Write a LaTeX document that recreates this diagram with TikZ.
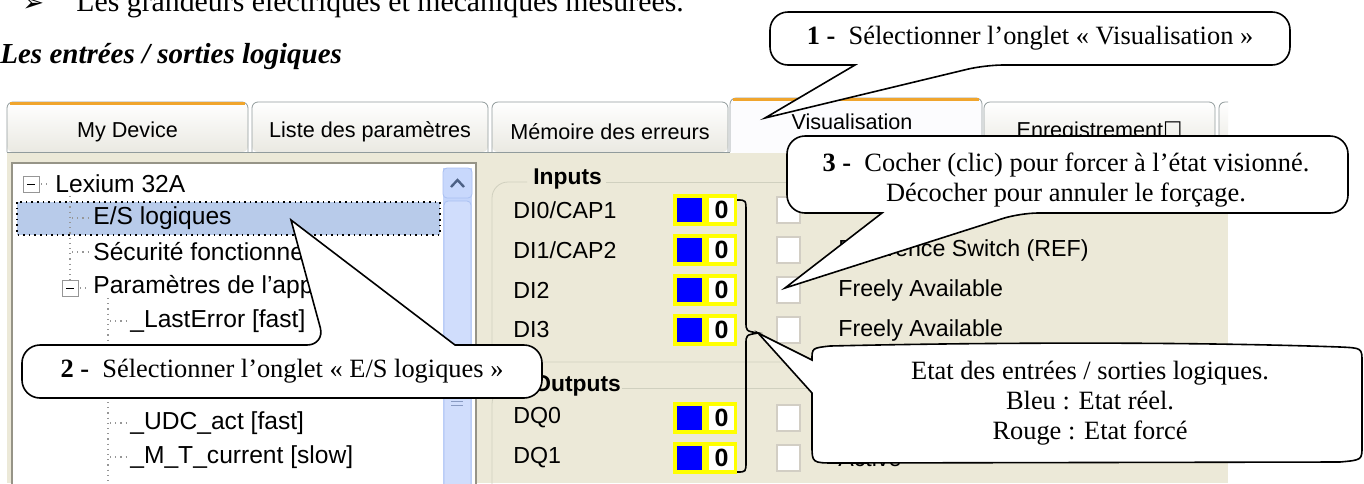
\documentclass[tikz,border=0pt]{standalone}
\usepackage{fontspec}
\setmainfont{Liberation Serif}
\setsansfont{Liberation Sans}
\newfontfamily\symfont{DejaVu Sans}
\usetikzlibrary{positioning}
\definecolor{winBeige}{RGB}{236,233,216}
\definecolor{tabTop}{RGB}{255,255,255}
\definecolor{tabBot}{RGB}{234,233,226}
\definecolor{tabEdge}{RGB}{145,155,156}
\definecolor{tabHot}{RGB}{240,165,45}
\definecolor{tabSel}{RGB}{252,252,254}
\definecolor{treeEdge}{RGB}{150,148,135}
\definecolor{selBlue}{RGB}{184,203,234}
\definecolor{treeDot}{RGB}{150,150,150}
\definecolor{scrollBlue}{RGB}{196,213,251}
\definecolor{scrollEdge}{RGB}{170,192,242}
\definecolor{scrollBtn}{RGB}{200,216,252}
\definecolor{chevronBlue}{RGB}{77,97,133}
\definecolor{grpEdge}{RGB}{208,208,191}
\definecolor{boxEdge}{RGB}{210,206,196}
\definecolor{ledYellow}{RGB}{255,255,0}
\definecolor{ledBlue}{RGB}{0,0,255}

\begin{document}
\begin{tikzpicture}[x=0.5pt,y=-0.5pt,
    uitext/.style={font=\sffamily\fontsize{11.6}{13}\selectfont,anchor=west,inner sep=0pt},
    treetext/.style={font=\sffamily\fontsize{12.3}{14}\selectfont,anchor=west,inner sep=0pt},
    tablabel/.style={font=\sffamily\fontsize{10.8}{13}\selectfont,inner sep=0pt},
    callout/.style={draw=black,fill=white,line width=0.8pt},
    calltext/.style={font=\fontsize{13.2}{15}\selectfont,align=center,inner sep=0pt},
    treeline/.style={draw=treeDot,dotted,line width=0.6pt}]
    \useasboundingbox (0,0) rectangle (1364,483);
    \fill[white] (0,0) rectangle (1364,483);
    \begin{scope}
      \clip (0,0) rectangle (1364,483);
      \node[anchor=base west,inner sep=0pt,font=\symfont\fontsize{13}{15}\selectfont] (pagebullet) at (22,11) {➢};
      \node[anchor=base west,inner sep=0pt,font=\fontsize{14.9}{17}\selectfont] (pageline) at (76,11) {Les grandeurs électriques et mécaniques mesurées.};
    \end{scope}
    \node[anchor=base west,inner sep=0pt,font=\bfseries\itshape\fontsize{14.5}{17}\selectfont] (sectitle) at (0,63) {Les entrées / sorties logiques};

    \begin{scope}
      \clip (5,95) rectangle (1228,483);
      \foreach \xa/\xb/\lbl/\nm in {7/248/My Device/tabDevice,252/488/Liste des paramètres/tabParams,
                                    492/728/Mémoire des erreurs/tabErrors,984/1215/Enregistrement{\symfont ☐}/tabRecord,
                                    1219/1300/{}/tabMore}
        {\shade[top color=tabTop,bottom color=tabBot,rounded corners=3pt] (\xa,152) -- (\xa,102) -- (\xb,102) -- (\xb,152) -- cycle;
         \draw[tabEdge,rounded corners=3pt] (\xa,152) -- (\xa,102) -- (\xb,102) -- (\xb,152);
         \node[tablabel] (\nm) at ({(\xa+\xb)/2},132) {\lbl};}
      \draw[tabHot,line width=1.5pt] (10,103) -- (245,103);
      \fill[tabSel,rounded corners=3pt] (730,153) -- (730,98) -- (982,98) -- (982,153) -- cycle;
      \draw[tabEdge,rounded corners=3pt] (730,152) -- (730,98) -- (982,98) -- (982,152);
      \draw[tabHot,line width=1.5pt] (733,99.5) -- (979,99.5);
      \node[tablabel] (tabVisu) at (852,122) {Visualisation};
      \fill[winBeige] (7,153) rectangle (1228,483);
      \draw[tabEdge] (7,152) -- (730,152) (982,152) -- (1228,152);

      \fill[white] (12,163) rectangle (476,490);
      \draw[treeEdge,line width=1.2pt] (12,163) rectangle (476,490);
      \fill[selBlue] (17,202) rectangle (440,235);
      \draw[dotted,line width=0.8pt] (17,202) rectangle (440,235);
      \draw[treeline] (70,196) -- (70,281);
      \foreach \y in {218,252} {\draw[treeline] (72,\y) -- (88,\y);}
      \draw[treeline] (108,298) -- (108,490);
      \foreach \y in {321,355,389,423,457} {\draw[treeline] (110,\y) -- (126,\y);}
      \draw[treeDot,fill=white] (23,176) rectangle (39,192);
      \draw (27,184) -- (35,184);
      \draw[treeline] (41,184) -- (50,184);
      \draw[treeDot,fill=white] (62,280) rectangle (78,296);
      \draw (66,288) -- (74,288);
      \draw[treeline] (80,288) -- (88,288);
      \node[treetext] (itemRoot) at (55,184) {Lexium 32A};
      \node[treetext] (itemIO) at (93,218) {E/S logiques};
      \node[treetext] (itemSafety) at (93,252) {Sécurité fonctionnelle};
      \node[treetext] (itemParams) at (93,287) {Paramètres de l'appareil};
      \node[treetext] (itemLastErr) at (130,321) {\_LastError [fast]};
      \node[treetext] (itemUdc) at (130,423) {\_UDC\_act [fast]};
      \node[treetext] (itemCurrent) at (130,457) {\_M\_T\_current [slow]};

      \fill[scrollBlue] (443,168) rectangle (472,490);
      \draw[scrollEdge,fill=scrollBtn,rounded corners=2pt] (443,168) rectangle (472,198);
      \draw[chevronBlue,line width=1.2pt] (451,187) -- (457.5,180) -- (464,187);
      \draw[scrollEdge,fill=scrollBlue!80!white,rounded corners=2pt] (444,201) rectangle (471,495);
      \foreach \y in {401,405} {\draw[scrollEdge!80!black] (451,\y) -- (463,\y);}

      \draw[grpEdge,rounded corners=8pt] (527,182) -- (492,182) -- (492,362) -- (1260,362);
      \draw[grpEdge] (606,182) -- (1260,182);
      \node[uitext,font=\sffamily\bfseries\fontsize{11.4}{13}\selectfont] (grpInputs) at (533,179) {Inputs};
      \draw[grpEdge,rounded corners=8pt] (527,388) -- (492,388) -- (492,500);
      \draw[grpEdge] (622,388) -- (1260,388);
      \node[uitext,font=\sffamily\bfseries\fontsize{11.4}{13}\selectfont] (grpOutputs) at (533,386) {Outputs};
      \foreach \y/\lbl/\nm in {210/{DI0/CAP1}/di0,250/{DI1/CAP2}/di1,290/DI2/di2,330/DI3/di3,418/DQ0/dq0,458/DQ1/dq1}
        {\node[uitext] (name\nm) at (513,\y) {\lbl};
         \fill[ledYellow] (673,\y-16) rectangle (737,\y+16);
         \fill[ledBlue] (677,\y-12) rectangle (702,\y+12);
         \fill[white] (709,\y-12) rectangle (734,\y+12);
         \node[font=\sffamily\bfseries\fontsize{12.5}{14}\selectfont,inner sep=0pt] (val\nm) at (721.5,\y) {0};
         \draw[boxEdge,fill=white,line width=0.8pt] (777,\y-13) rectangle (800,\y+13);}
      \node[uitext] (descDI1) at (838,250) {Reference Switch (REF)};
      \node[uitext] (descDI2) at (838,290) {Freely Available};
      \node[uitext] (descDI3) at (838,330) {Freely Available};
      \node[uitext] (descDQ1) at (838,458) {Active};
    \end{scope}

    \coordinate (braceTip) at (758,333);
    \draw[line width=0.8pt] (737,200) .. controls (746,200) .. (746,212) -- (746,322)
      .. controls (746,331) .. (braceTip) .. controls (746,335) .. (746,344) -- (746,461)
      .. controls (746,472) .. (737,472);

    \coordinate (tip1) at (765,118);
    \coordinate (tip2) at (291,220);
    \coordinate (tip3) at (785,288);
    \draw[callout,rounded corners=9pt] (770,12) -- (1290,12) -- (1290,65) -- (985,65) [sharp corners] -- (tip1)
      -- (855,65) [rounded corners=9pt] -- (770,65) -- cycle;
    \draw[callout,rounded corners=9pt] (787,136) -- (1348,136) -- (1348,213) -- (1020,213) [sharp corners] -- (tip3)
      -- (882,213) [rounded corners=9pt] -- (787,213) -- cycle;
    \draw[callout,rounded corners=9pt] (22,345) -- (325,345) [sharp corners] -- (tip2) -- (455,345)
      [rounded corners=9pt] -- (542,345) -- (542,398) -- (22,398) -- cycle;
    \draw[callout] (830,346) .. controls (1000,342) and (1200,342) .. (1340,347) .. controls (1362,348) .. (1362,362)
      -- (1362,446) .. controls (1362,460) .. (1340,462) -- (836,463) .. controls (812,463) .. (812,445) -- (812,393)
      -- (braceTip) -- (812,360) .. controls (812,348) .. (830,346) -- cycle;
    \node[calltext] (note1) at (1030,38) {\textbf{1 -}~ Sélectionner l’onglet «~Visualisation~»};
    \node[calltext] (note3) at (1066,180) {\textbf{3 -}~ Cocher (clic) pour forcer à l’état visionné.\\Décocher pour annuler le forçage.};
    \node[calltext] (note2) at (282,371) {\textbf{2 -}~ Sélectionner l’onglet «~E/S logiques~»};
    \node[calltext] (note4) at (1090,403) {Etat des entrées / sorties logiques.\\Bleu : Etat réel.\\Rouge : Etat forcé};
  \end{tikzpicture}
\end{document}
